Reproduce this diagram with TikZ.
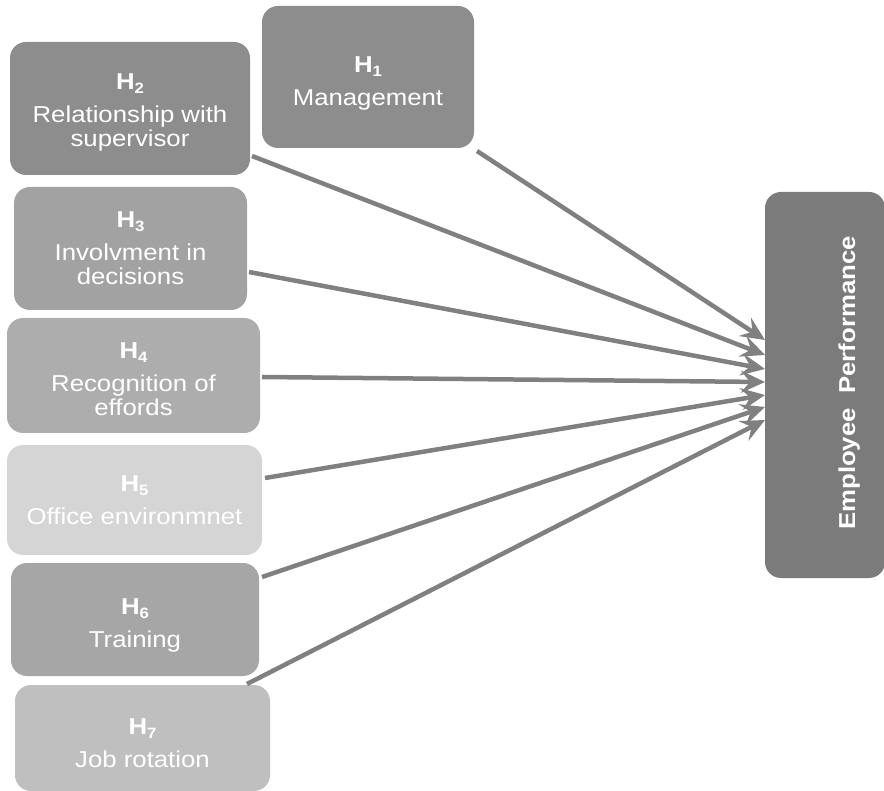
\documentclass[tikz,border=0pt]{standalone}
\usepackage{fontspec}
\setmainfont[FakeStretch=1.12]{Liberation Sans}
\usetikzlibrary{arrows.meta}
\definecolor{gA}{HTML}{8D8D8D}
\definecolor{gB}{HTML}{A2A2A2}
\definecolor{gC}{HTML}{ADADAD}
\definecolor{gD}{HTML}{D5D5D5}
\definecolor{gE}{HTML}{A6A6A6}
\definecolor{gF}{HTML}{BFBFBF}
\definecolor{gEP}{HTML}{7B7B7B}
\definecolor{arr}{HTML}{808080}
\newcommand{\hyp}[1]{\textbf{H\raisebox{-4pt}{\fontsize{15pt}{15pt}\selectfont\bfseries #1}}}
\tikzset{
  hbox/.style={rounded corners=16pt, inner sep=0pt, text=white, align=center,
    font=\fontsize{23pt}{24pt}\selectfont},
  link/.style={draw=arr, line width=4.5pt,
    -{Stealth[length=24pt,width=22pt,inset=9pt]}},
}
\begin{document}
\begin{tikzpicture}[x=1pt,y=-1pt]
\useasboundingbox (0,0) rectangle (884,791);
\node[hbox, fill=gA, minimum width=212pt, minimum height=142pt] (H1) at (368,77) {};
\node[hbox, fill=gA, minimum width=240pt, minimum height=133pt] (H2) at (130,108.5) {};
\node[hbox, fill=gB, minimum width=233pt, minimum height=123pt] (H3) at (130.5,248.5) {};
\node[hbox, fill=gC, minimum width=253pt, minimum height=115pt] (H4) at (133.5,375.5) {};
\node[hbox, fill=gD, minimum width=255pt, minimum height=110pt] (H5) at (134.5,500) {};
\node[hbox, fill=gE, minimum width=248pt, minimum height=113pt] (H6) at (135,619.5) {};
\node[hbox, fill=gF, minimum width=255pt, minimum height=106pt] (H7) at (142.5,738) {};
\node[hbox, fill=gEP, minimum width=120pt, minimum height=386pt] (EP) at (825,385) {};
% labels (anchor base = baseline of last line)
\node[hbox, anchor=base] (L1) at (368,106) {\hyp{1}\\[9pt]Management};
\node[hbox, anchor=base] (L2) at (130,147) {\hyp{2}\\[9pt]Relationship with\\supervisor};
\node[hbox, anchor=base] (L3) at (130.5,285) {\hyp{3}\\[9pt]Involvment in\\decisions};
\node[hbox, anchor=base] (L4) at (133.5,416) {\hyp{4}\\[9pt]Recognition of\\effords};
\node[hbox, anchor=base] (L5) at (134.5,525) {\hyp{5}\\[9pt]Office environmnet};
\node[hbox, anchor=base] (L6) at (135,647) {\hyp{6}\\[9pt]Training};
\node[hbox, anchor=base] (L7) at (142.5,767) {\hyp{7}\\[9pt]Job rotation};
\node[text=white, font=\fontsize{23pt}{24pt}\selectfont\bfseries, rotate=90, anchor=base] (EPt) at (855,383)
  {Employee\ \ Performance};
% start and end points
\coordinate (s1) at (477,151);
\coordinate (s2) at (252,156);
\coordinate (s3) at (249,272);
\coordinate (s4) at (262,377);
\coordinate (s5) at (265,478);
\coordinate (s6) at (262,577);
\coordinate (s7) at (247,684);
\coordinate (t1) at (765,340);
\coordinate (t2) at (765,355);
\coordinate (t3) at (765,369);
\coordinate (t4) at (765,382);
\coordinate (t5) at (765,395);
\coordinate (t6) at (765,407);
\coordinate (t7) at (765,420);
\foreach \i in {1,...,7} {\draw[link] (s\i) -- (t\i);}
\end{tikzpicture}
\end{document}
